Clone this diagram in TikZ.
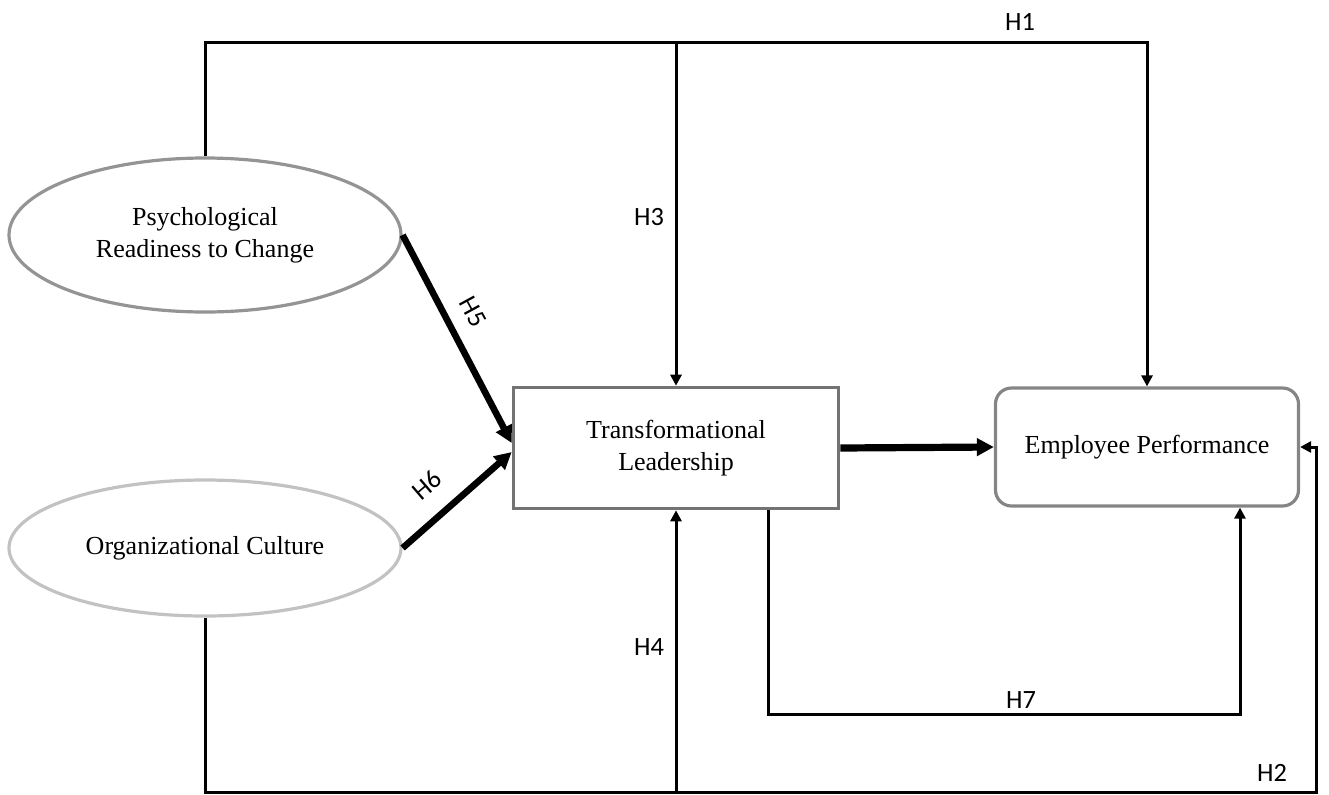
\documentclass[tikz,border=0pt]{standalone}
\usepackage{fontspec}
\setmainfont{Liberation Serif}
\newfontfamily\labfont{Carlito}
\usetikzlibrary{arrows.meta,shapes.geometric,calc}
\tikzset{
  conn/.style={line width=1.5pt, draw=black},
  thinarrow/.style={-{Triangle[length=5.5pt,width=5.5pt]}},
  thick arrow/.style={line width=3.3pt, -{Triangle[length=8.5pt,width=8.5pt]}},
  lab/.style={font=\labfont\fontsize{13.2}{15}\selectfont, inner sep=0pt},
  nodetext/.style={font=\fontsize{13}{16}\selectfont, align=center, inner sep=0pt},
  ell/.style={ellipse, nodetext, line width=1.6pt, fill=white, minimum width=196pt},
}
\begin{document}
\begin{tikzpicture}[x=0.5pt,y=-0.5pt]
\useasboundingbox (0,0) rectangle (1329,794);
% nodes
\node[ell, draw=black!42, minimum height=77pt] (PRC) at (205,235) {Psychological\\Readiness to Change};
\node[ell, draw=black!24, minimum height=68pt] (OC) at (205,548) {Organizational Culture};
\node[rectangle, nodetext, draw=black!55, line width=1.8pt, minimum width=162.5pt, minimum height=60.5pt] (TL) at (676,448) {Transformational\\Leadership};
\node[rectangle, rounded corners=8pt, nodetext, draw=black!48, line width=1.6pt, minimum width=151.5pt, minimum height=59pt] (EP) at (1147,447) {Employee Performance};
% helper coordinates
\coordinate (topy) at (0,42);
\coordinate (boty) at (0,792);
\coordinate (br) at (1316,792);
\coordinate (h7x) at (768,0);
\coordinate (h7c) at (1240,714);
% H1 / H3
\draw[conn, thinarrow] (PRC.north) |- (EP.north |- topy) -- (EP.north);
\draw[conn, thinarrow] (TL.north |- topy) -- (TL.north);
% H2 / H4
\draw[conn, thinarrow] (OC.south) |- (br) |- (EP.east);
\draw[conn, thinarrow] (TL.south |- boty) -- (TL.south);
% H7
\draw[conn, thinarrow] (TL.south -| h7x) |- (h7c) -- (EP.south -| h7c);
% H5 / H6 and TL -> EP
\draw[thick arrow] (PRC.east) -- ([yshift=2.5pt]TL.west);
\draw[thick arrow] (OC.east) -- ([yshift=-2pt]TL.west);
\draw[thick arrow, line width=3.6pt] (TL.east) -- (EP.west);
% labels
\node[lab] (l1) at (1020,22) {H1};
\node[lab] (l3) at (649,217) {H3};
\node[lab] (l4) at (649,647) {H4};
\node[lab] (l7) at (1021,700) {H7};
\node[lab] (l2) at (1272,773) {H2};
\node[lab, rotate=-61.5] (l5) at (473,312) {H5};
\node[lab, rotate=40.6] (l6) at (427,485) {H6};
\end{tikzpicture}
\end{document}
